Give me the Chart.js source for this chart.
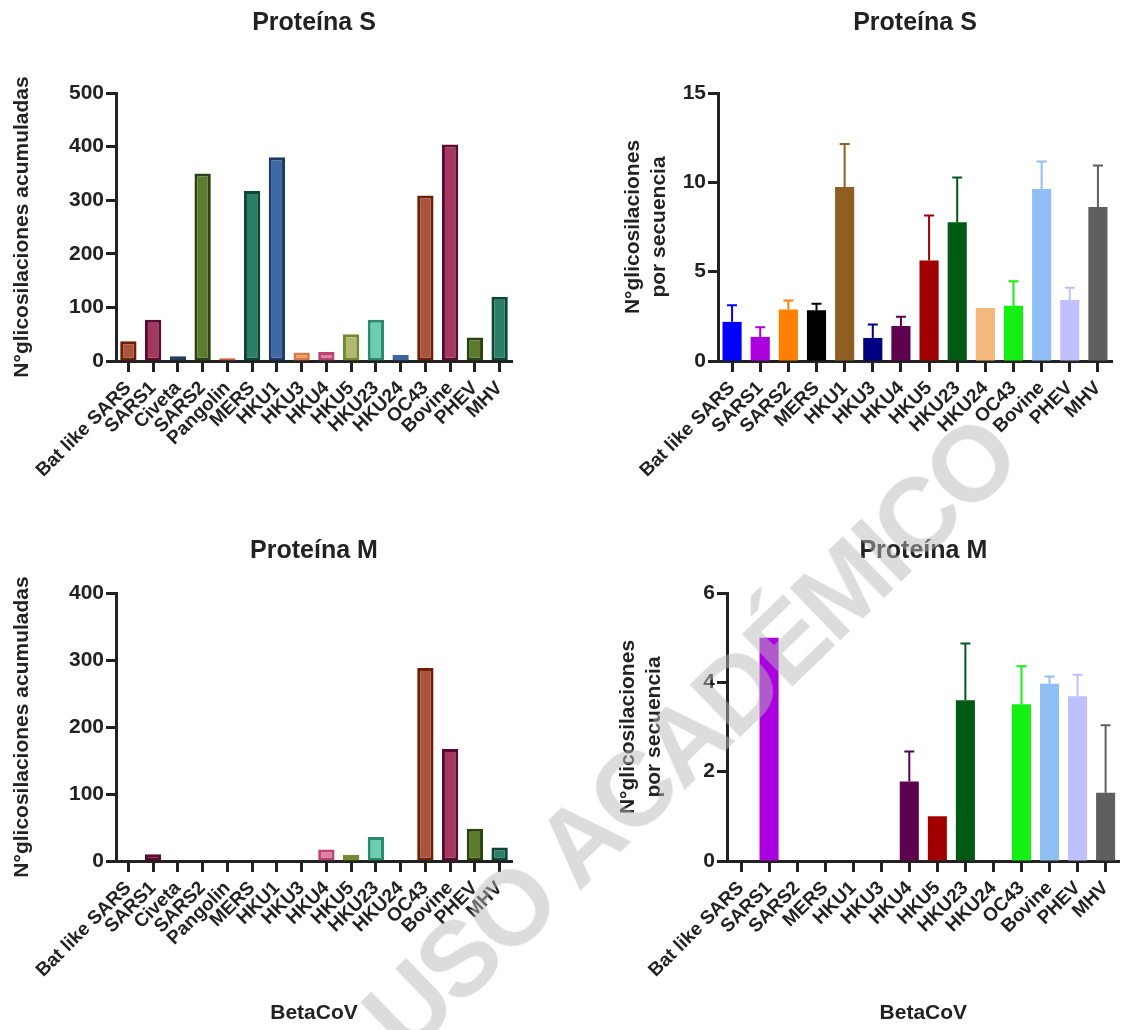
<!DOCTYPE html>
<html>
<head>
<meta charset="utf-8">
<script src="https://cdn.jsdelivr.net/npm/chart.js@4.4.1/dist/chart.umd.min.js"></script>
<style>
  body { margin: 0; background: #fff; }
  #page { position: relative; width: 1127px; height: 1030px; overflow: hidden; }
  canvas { position: absolute; }
  #wm {
    position: absolute; left: 689px; top: 735px;
    font: bold 106px "Liberation Sans", Arial, sans-serif;
    letter-spacing: -4px;
    line-height: 1; white-space: nowrap; pointer-events: none;
    color: rgba(184, 184, 184, 0.49);
    transform: translate(-50%, -50%) rotate(-44deg);
  }
</style>
</head>
<body>
<div id="page">
  <canvas id="sAcc" width="563" height="515" style="left:0;top:0"></canvas>
  <canvas id="sSeq" width="564" height="515" style="left:563px;top:0"></canvas>
  <canvas id="mAcc" width="563" height="515" style="left:0;top:515px"></canvas>
  <canvas id="mSeq" width="564" height="515" style="left:563px;top:515px"></canvas>
  <div id="wm">USO ACADÉMICO</div>
</div>
<script>
// categories
const virusAll = ['Bat like SARS', 'SARS1', 'Civeta', 'SARS2', 'Pangolin', 'MERS', 'HKU1', 'HKU3',
                  'HKU4', 'HKU5', 'HKU23', 'HKU24', 'OC43', 'Bovine', 'PHEV', 'MHV'];
const virusSeq = ['Bat like SARS', 'SARS1', 'SARS2', 'MERS', 'HKU1', 'HKU3', 'HKU4',
                  'HKU5', 'HKU23', 'HKU24', 'OC43', 'Bovine', 'PHEV', 'MHV'];

// accumulated glycosylations
const sAccum = [37, 77, 9, 350, 5, 317, 380, 16, 17, 50, 77, 11, 309, 404, 44, 120];
const mAccum = [0, 10, 0, 0, 0, 0, 0, 0, 17, 9.5, 36, 0, 288, 167, 48, 20];

// glycosylations per sequence (mean and SD)
const sMean = [2.19, 1.35, 2.88, 2.84, 9.74, 1.29, 1.96, 5.63, 7.76, 2.97, 3.09, 9.63, 3.42, 8.62];
const sSD   = [0.93, 0.54, 0.51, 0.36, 2.40, 0.75, 0.51, 2.52, 2.51, 0, 1.38, 1.54, 0.68, 2.32];
const mMean = [0, 5.0, 0, 0, 0, 0, 1.78, 1.0, 3.6, 0, 3.51, 3.97, 3.69, 1.53];
const mSD   = [0, 0, 0, 0, 0, 0, 0.67, 0, 1.27, 0, 0.85, 0.16, 0.48, 1.51];

// colours
const accFill = ['#a9553d', '#a3395f', '#3b5c8c', '#5d7a2e', '#e07050', '#2a7f66', '#3e6aa3', '#f59a40',
                 '#e07fa0', '#b2b86e', '#6dcdb2', '#5f85c0', '#a9553d', '#a3395f', '#5d7a2e', '#2a7f66'];
const accBorder = ['#6e1f05', '#5c0a31', '#203a60', '#2a4410', '#d05a3a', '#0d4535', '#1d3a66', '#d9784e',
                   '#b94374', '#6f8a2f', '#2a8a6d', '#3c64a0', '#6e1f05', '#5c0a31', '#2a4410', '#0d4535'];
const seqFill = ['#0000ff', '#aa00dd', '#ff8000', '#000000', '#8f5e22', '#000080', '#5e0050',
                 '#a00000', '#005a14', '#f2b87c', '#14f014', '#8fbff5', '#c0c0ff', '#5f5f5f'];

const ink = '#222';
const family = '"Liberation Sans", Arial, sans-serif';

// error bars (mean + SD) drawn through the y scale
const errorBars = {
  id: 'errorBars',
  afterDatasetsDraw(chart) {
    const ds = chart.data.datasets[0];
    if (!ds.errors) return;
    const meta = chart.getDatasetMeta(0);
    const yScale = chart.scales.y;
    const ctx = chart.ctx;
    ctx.save();
    ctx.lineWidth = 2;
    meta.data.forEach((bar, i) => {
      const e = ds.errors[i];
      if (!e) return;
      const top = yScale.getPixelForValue(ds.data[i] + e);
      ctx.strokeStyle = ds.backgroundColor[i];
      ctx.beginPath();
      ctx.moveTo(bar.x, bar.y);
      ctx.lineTo(bar.x, top);
      ctx.moveTo(bar.x - 5, top);
      ctx.lineTo(bar.x + 5, top);
      ctx.stroke();
    });
    ctx.restore();
  }
};

function buildChart(id, c) {
  return new Chart(document.getElementById(id), {
    type: 'bar',
    data: {
      labels: c.labels,
      datasets: [{
        data: c.values,
        errors: c.errors,
        backgroundColor: c.fill,
        borderColor: c.border,
        borderWidth: c.borderWidth,
        borderSkipped: false,
        barPercentage: c.barPct,
        categoryPercentage: 1
      }]
    },
    options: {
      responsive: false,
      animation: false,
      devicePixelRatio: 1,
      layout: { padding: { left: 0, right: c.padRight, top: 0, bottom: 0 } },
      plugins: {
        legend: { display: false },
        tooltip: { enabled: false },
        title: {
          display: true, text: c.title, fullSize: false, color: ink,
          font: { size: 25, weight: 'bold', family },
          padding: { top: c.titleTop, bottom: c.titleBottom }
        }
      },
      scales: {
        x: {
          grid: { offset: false, drawOnChartArea: false, drawTicks: true, tickLength: 11, tickWidth: 3, tickColor: ink },
          border: { display: true, width: 3, color: ink },
          ticks: { color: ink, font: { size: 19, weight: 'bold', family }, minRotation: 45, maxRotation: 45, autoSkip: false, padding: 5 },
          title: { display: c.xTitle, text: 'BetaCoV', color: ink, font: { size: 21, weight: 'bold', family }, padding: { top: 0, bottom: 4 } },
          afterFit: s => { s.height = c.xHeight; }
        },
        y: {
          min: 0, max: c.max,
          grid: { drawOnChartArea: false, drawTicks: true, tickLength: 10, tickWidth: 3, tickColor: ink },
          border: { display: true, width: 3, color: ink },
          ticks: { stepSize: c.step, color: ink, font: { size: 21, weight: 'bold', family }, padding: 2 },
          title: { display: true, text: c.yTitle, color: ink, font: { size: 21, weight: 'bold', family }, padding: { top: c.yTitlePad, bottom: 0 } },
          afterFit: s => { s.width = c.yWidth; }
        }
      }
    },
    plugins: [errorBars]
  });
}

buildChart('sAcc', {
  labels: virusAll, values: sAccum, fill: accFill, border: accBorder, borderWidth: 3, barPct: 0.66,
  title: 'Proteína S', titleTop: 8, titleBottom: 55, max: 500, step: 100,
  yTitle: 'N°glicosilaciones acumuladas', yTitlePad: 10, yWidth: 116, padRight: 51, xHeight: 154, xTitle: false
});
buildChart('sSeq', {
  labels: virusSeq, values: sMean, errors: sSD, fill: seqFill, border: seqFill, borderWidth: 0, barPct: 0.68,
  title: 'Proteína S', titleTop: 8, titleBottom: 55, max: 15, step: 5,
  yTitle: ['N°glicosilaciones', 'por secuencia'], yTitlePad: 58, yWidth: 155, padRight: 15, xHeight: 154, xTitle: false
});
buildChart('mAcc', {
  labels: virusAll, values: mAccum, fill: accFill, border: accBorder, borderWidth: 3, barPct: 0.66,
  title: 'Proteína M', titleTop: 21, titleBottom: 27, max: 400, step: 100,
  yTitle: 'N°glicosilaciones acumuladas', yTitlePad: 10, yWidth: 116, padRight: 51, xHeight: 169, xTitle: true
});
buildChart('mSeq', {
  labels: virusSeq, values: mMean, errors: mSD, fill: seqFill, border: seqFill, borderWidth: 0, barPct: 0.68,
  title: 'Proteína M', titleTop: 21, titleBottom: 27, max: 6, step: 2,
  yTitle: ['N°glicosilaciones', 'por secuencia'], yTitlePad: 53, yWidth: 164, padRight: 5, xHeight: 169, xTitle: true
});
</script>
</body>
</html>
